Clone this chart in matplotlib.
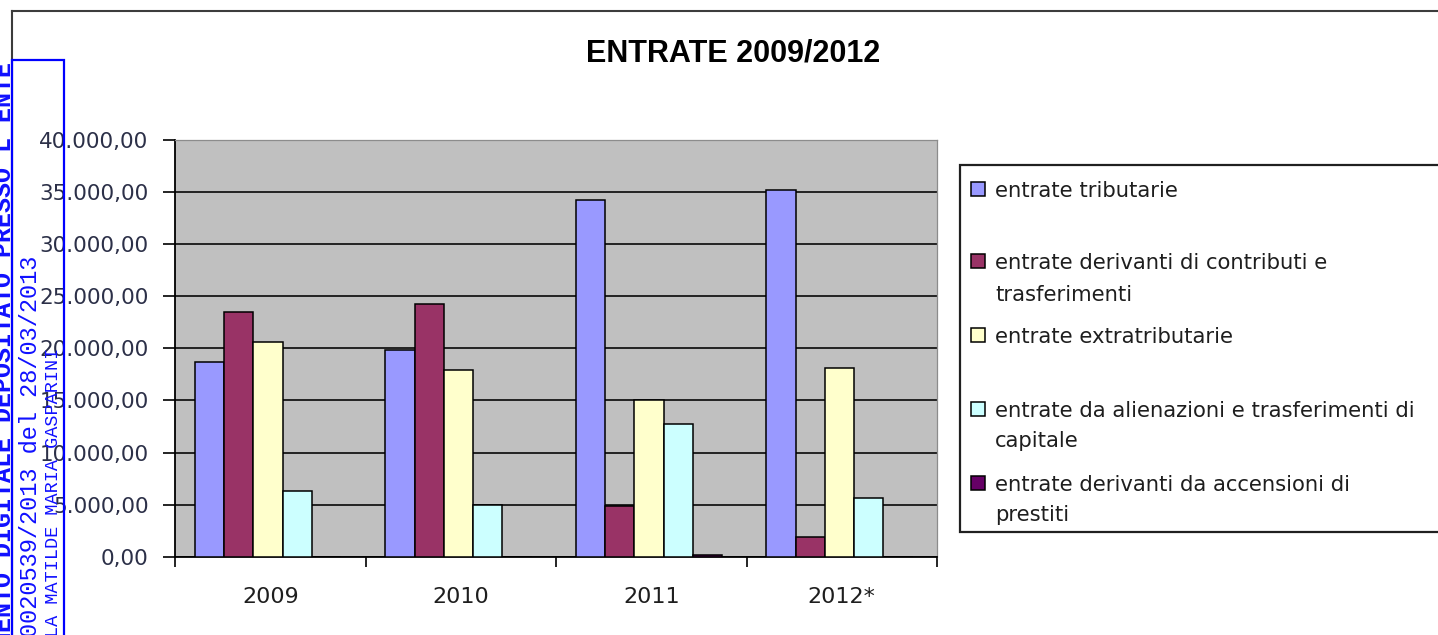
import matplotlib
matplotlib.use("Agg")
import matplotlib.pyplot as plt
from matplotlib.patches import Rectangle
from matplotlib.lines import Line2D
from matplotlib.ticker import FuncFormatter, FixedLocator

# ---- data -------------------------------------------------------------
years = ["2009", "2010", "2011", "2012*"]
series_labels = [
    "entrate tributarie",
    "entrate derivanti di contributi e\ntrasferimenti",
    "entrate extratributarie",
    "entrate da alienazioni e trasferimenti di\ncapitale",
    "entrate derivanti da accensioni di\nprestiti",
]
tributarie = [18650, 19800, 34250, 35200]
contributi = [23500, 24300, 4900, 1900]
extratributarie = [20600, 17900, 15000, 18100]
alienazioni = [6350, 4950, 12700, 5600]
prestiti = [0, 0, 200, 0]
y_ticks = [0, 5000, 10000, 15000, 20000, 25000, 30000, 35000, 40000]
title = "ENTRATE 2009/2012"
stamp_lines = [
    "DOCUMENTO DIGITALE DEPOSITATO PRESSO L'ENTE",
    "0020539/2013 del 28/03/2013",
    "LA MATILDE MARIA GASPARINI",
]

series = [tributarie, contributi, extratributarie, alienazioni, prestiti]
colors = ["#9999FF", "#993366", "#FFFFCC", "#CCFFFF", "#660066"]

# ---- figure in pixel units -------------------------------------------
W, H = 1438, 635
fig = plt.figure(figsize=(W / 100, H / 100), dpi=100)
fig.patch.set_facecolor("white")


def fx(x):
    return x / W


def fy(y):
    return 1 - y / H


TXT = "#1e1e1e"
ax = fig.add_axes([fx(175), fy(556.7), fx(937) - fx(175), fy(140) - fy(556.7)])
ax.set_facecolor("#C0C0C0")

n = len(series)
bw = 1 / (n + 1.5)
xs = range(len(years))
for i, (vals, col) in enumerate(zip(series, colors)):
    ax.bar([x + (i - (n - 1) / 2) * bw - 0.012 for x in xs], vals, width=bw,
           color=col, edgecolor="black", linewidth=1.1, zorder=3)

ax.set_xlim(-0.5, len(years) - 0.5)
ax.set_ylim(y_ticks[0], y_ticks[-1])
ax.set_yticks(y_ticks)
ax.yaxis.grid(True, color="#161616", linewidth=1.3)
ax.set_axisbelow(True)


def it_fmt(v, _pos):
    s = f"{v:,.2f}"
    return s.replace(",", "X").replace(".", ",").replace("X", ".")


ax.yaxis.set_major_formatter(FuncFormatter(it_fmt))
ax.tick_params(axis="y", direction="out", length=8.6, width=1.2,
               pad=10.5, labelsize=15.5, labelcolor="#2c3048", color="black")

ax.set_xticks(list(xs))
ax.set_xticklabels(years)
ax.xaxis.set_minor_locator(FixedLocator([x - 0.5 for x in range(len(years) + 1)]))
ax.tick_params(axis="x", which="major", length=0, pad=22, labelsize=16,
               labelcolor=TXT)
ax.tick_params(axis="x", which="minor", direction="out", length=7.5,
               width=1.2, color="black")

for side in ("left", "bottom"):
    ax.spines[side].set_color("black")
    ax.spines[side].set_linewidth(1.3)
for side in ("top", "right"):
    ax.spines[side].set_color("#8c8c8c")
    ax.spines[side].set_linewidth(0.9)

for lab in ax.get_yticklabels() + ax.get_xticklabels():
    lab.set_family("DejaVu Sans")

# ---- title ------------------------------------------------------------
fig.text(fx(733), fy(54), title, ha="center", va="center",
         fontsize=22, fontweight="bold", family="Liberation Sans", color="black")

# ---- legend (drawn in figure space) ----------------------------------
fig.add_artist(Rectangle((fx(960), fy(532)), fx(1450) - fx(960), fy(165) - fy(532),
                         transform=fig.transFigure, facecolor="white",
                         edgecolor="#202020", linewidth=1.6))
entry_baselines = [[197], [269, 301], [343], [417, 447], [491, 521]]
for label, col, bases in zip(series_labels, colors, entry_baselines):
    fig.add_artist(Rectangle((fx(971), fy(bases[0] - 1)), fx(14), fy(0) - fy(14),
                             transform=fig.transFigure, facecolor=col,
                             edgecolor="black", linewidth=1.1))
    for line, b in zip(label.split("\n"), bases):
        fig.text(fx(995), fy(b), line, ha="left", va="baseline",
                 fontsize=15.2, family="DejaVu Sans", color=TXT)

# ---- chart frame ------------------------------------------------------
fig.add_artist(Line2D([fx(12), fx(1438)], [fy(11), fy(11)],
                      transform=fig.transFigure, color="#3c3c3c", linewidth=1.5))
fig.add_artist(Line2D([fx(12), fx(12)], [fy(11), fy(640)],
                      transform=fig.transFigure, color="#3c3c3c", linewidth=1.5))

# ---- filing stamp -----------------------------------------------------
BLUE = "#1010FF"
fig.add_artist(Rectangle((fx(12), fy(640)), fx(64) - fx(12), fy(60) - fy(640),
                         transform=fig.transFigure, facecolor="none",
                         edgecolor="#0000FF", linewidth=1.6, zorder=10))
stamp_specs = [
    (11, 62, 18, "bold"),
    (37.5, 256, 17.0, "normal"),
    (58.5, 348, 13.3, "normal"),
]
for text, (bx, top, size, weight) in zip(stamp_lines, stamp_specs):
    fig.text(fx(bx), fy(top), text, rotation=90, rotation_mode="anchor",
             ha="right", va="baseline", fontsize=size, fontweight=weight,
             family="Liberation Mono", color=BLUE, zorder=11)

fig.savefig("out.png", dpi=100)
